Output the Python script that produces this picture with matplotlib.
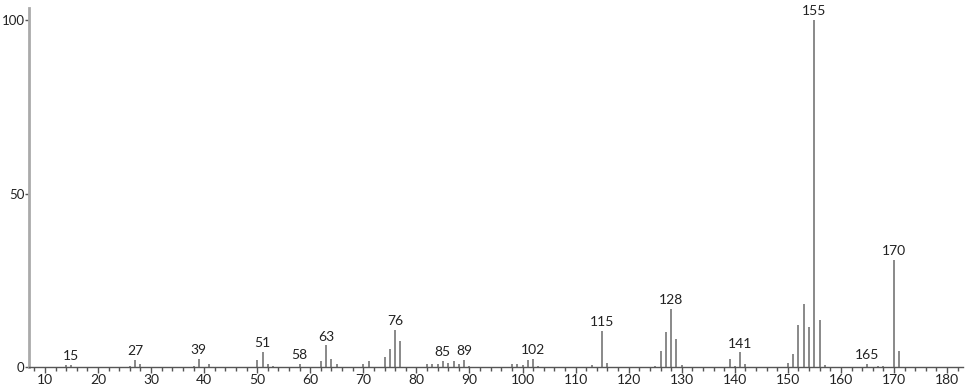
import matplotlib.pyplot as plt

plt.rcParams['font.family'] = ['Lato', 'DejaVu Sans']

mz = [14, 15, 26, 27, 28, 38, 39, 41, 50, 51, 52, 53, 58, 62, 63, 64, 65,
      70, 71, 74, 75, 76, 77, 82, 83, 84, 85, 86, 87, 88, 89, 90,
      98, 99, 100, 101, 102, 103, 113, 115, 116, 125, 126, 127, 128, 129, 130,
      139, 140, 141, 142, 150, 151, 152, 153, 154, 155, 156, 157,
      165, 167, 168, 170, 171]
intensity = [0.5, 0.7, 0.4, 2.1, 0.9, 0.4, 2.4, 1.0, 2.1, 4.4, 0.8, 0.3, 1.0, 1.7, 6.2, 2.2, 1.0,
             0.9, 1.8, 3.0, 5.1, 10.8, 7.6, 1.0, 1.0, 0.8, 1.7, 1.2, 1.7, 1.0, 2.0, 0.3,
             1.0, 0.8, 0.6, 2.0, 2.4, 0.4, 0.7, 10.3, 1.2, 0.3, 4.6, 10.0, 16.8, 8.0, 0.7,
             2.2, 0.3, 4.2, 0.8, 1.1, 3.7, 12.2, 18.2, 11.6, 100.0, 13.6, 0.6,
             1.0, 0.3, 0.4, 30.8, 4.6]
labeled = [15, 27, 39, 51, 58, 63, 76, 85, 89, 102, 115, 128, 141, 155, 165, 170]

fig = plt.figure(figsize=(9.66, 3.89), dpi=100)
ax = fig.add_axes([29 / 966, 22 / 389, 934 / 966, 359 / 389])

ax.vlines(mz, 0, intensity, color='#6a6a6a', linewidth=1.1)

for m, v in zip(mz, intensity):
    if m in labeled:
        ax.text(m, v + 0.8, str(m), ha='center', va='bottom', fontsize=10, color='#222222')

ax.set_xlim(7.0, 183)
ax.set_ylim(0, 103.5)
ax.set_xticks(range(10, 181, 10))
ax.set_xticks(range(8, 183, 2), minor=True)
ax.set_yticks([0, 50, 100])

for s in ['top', 'right']:
    ax.spines[s].set_visible(False)
ax.spines['left'].set_color('#aaaaaa')
ax.spines['left'].set_linewidth(2)
ax.spines['bottom'].set_color('#555555')
ax.spines['bottom'].set_linewidth(1)

ax.tick_params(axis='x', which='major', direction='out', length=4, width=1, color='#555555',
               labelsize=10, pad=1, labelcolor='#222222')
ax.tick_params(axis='x', which='minor', direction='out', length=3, width=1, color='#555555')
ax.tick_params(axis='y', direction='out', length=3, width=1, color='#555555',
               labelsize=9.5, pad=0.3, labelcolor='#222222')

fig.savefig('out.png', dpi=100)
